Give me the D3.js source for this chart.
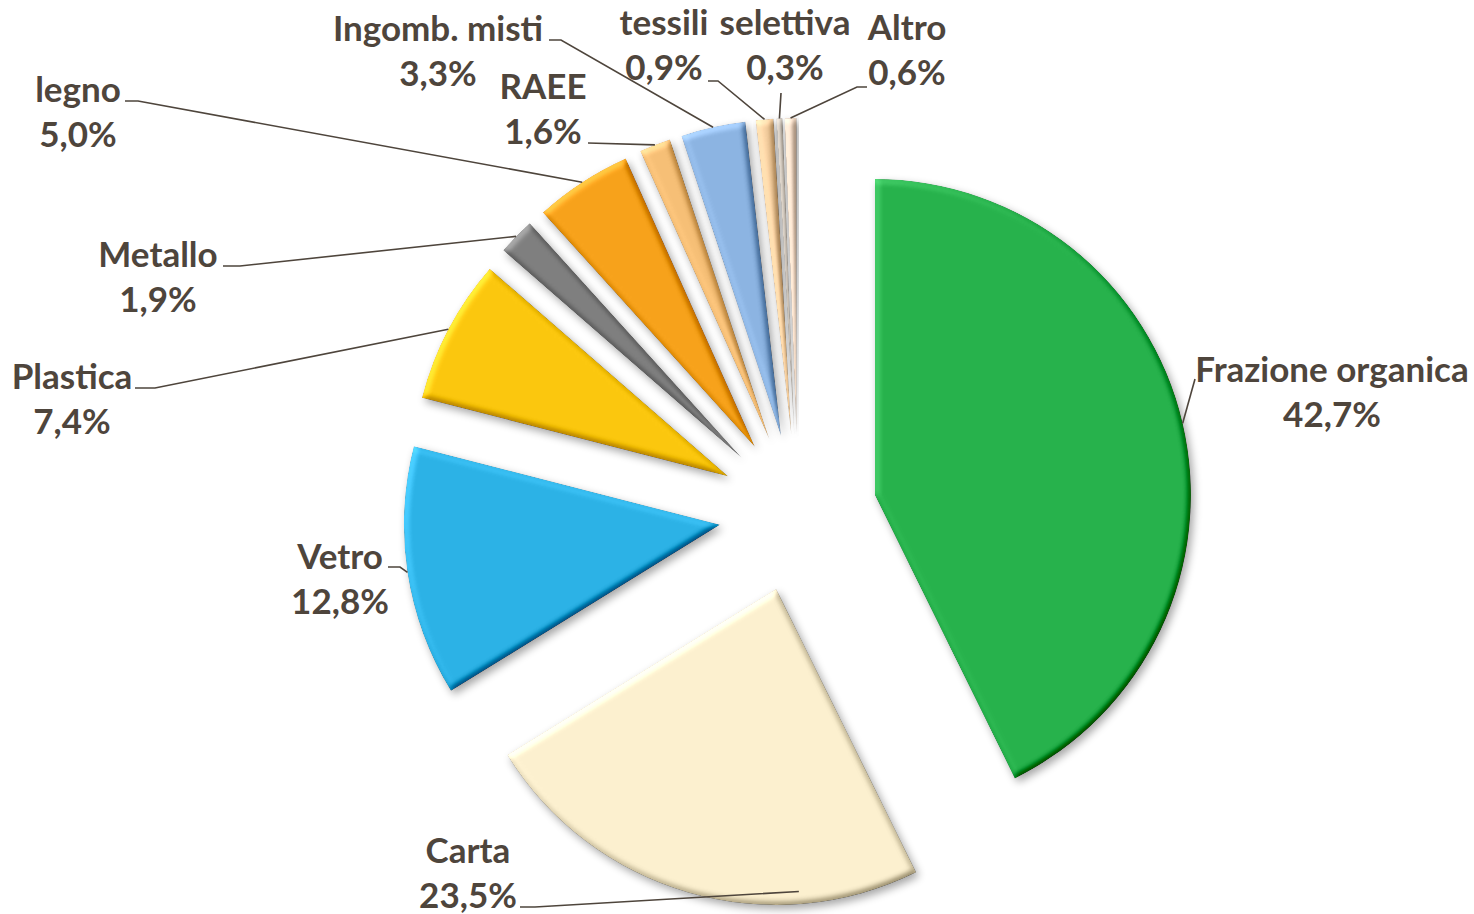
<!DOCTYPE html>
<html>
<head>
<meta charset="utf-8">
<script src="https://cdn.jsdelivr.net/npm/d3@7"></script>
<style>
  body { margin: 0; background: #fff; }
  text { font-family: Lato, "Open Sans", sans-serif; font-weight: 700; fill: #4e453c; }
</style>
</head>
<body>
<div id="chart-area"></div>
<script>
// data
const categories = ["Frazione organica", "Carta", "Vetro", "Plastica", "Metallo", "legno",
    "RAEE", "Ingomb. misti", "tessili", "selettiva", "Altro"];
const values = [42.7, 23.5, 12.8, 7.4, 1.9, 5.0, 1.6, 3.3, 0.9, 0.3, 0.6];

// styles
const sliceColors = ["#27b24c", "#fcf0cf", "#2cb2e6", "#fbc70e", "#7f7f7f", "#f7a21b",
    "#f6bf76", "#8cb4e2", "#f5cfa0", "#cfc6bb", "#f1dac6"];

// label placement: text centre x, first baseline y, leader start and short elbow
// at = where on the slice the leader ends (0..1 of its angle), rf = radius factor
const labelLayout = [
    {x: 1332, y: 382, sx: 1195, sy: 379, elbow: 0},
    {x: 468, y: 863, sx: 520, sy: 907, elbow: 15, at: 0.26, rf: 0.96},
    {x: 340, y: 569, sx: 388, sy: 567, elbow: 12},
    {x: 72, y: 389, sx: 135, sy: 388, elbow: 20},
    {x: 158, y: 267, sx: 223, sy: 266, elbow: 17},
    {x: 78, y: 102, sx: 125, sy: 101, elbow: 13},
    {x: 543, y: 99, sx: 588, sy: 143, elbow: 0},
    {x: 438, y: 41, sx: 549, sy: 40, elbow: 12},
    {x: 664, y: 35, sx: 708, sy: 81, elbow: 10},
    {x: 785, y: 35, sx: 781, sy: 93, elbow: 0},
    {x: 907, y: 40, sx: 867, sy: 87, elbow: -10}
];

let width = 1474, height = 914;
let cx = 798, cy = 513, radius = 316, explode = 79;
let lineGap = 45;

const fmt = v => d3.format(".1f")(v).replace(".", ",") + "%";

const svg = d3.select("#chart-area").append("svg")
    .attr("width", width)
    .attr("height", height);

svg.append("rect")
    .attr("width", width)
    .attr("height", height)
    .attr("fill", "#fff");

// bevel + shadow filter
const defs = svg.append("defs");
const f = defs.append("filter")
    .attr("id", "bevel")
    .attr("x", "-15%").attr("y", "-15%")
    .attr("width", "135%").attr("height", "135%")
    .attr("color-interpolation-filters", "sRGB");
f.append("feGaussianBlur").attr("in", "SourceAlpha").attr("stdDeviation", 3).attr("result", "blur");
f.append("feDiffuseLighting")
    .attr("in", "blur").attr("surfaceScale", 3).attr("diffuseConstant", 1)
    .attr("lighting-color", "#fff").attr("result", "light")
    .append("feDistantLight").attr("azimuth", 225).attr("elevation", 50);
f.append("feComposite")
    .attr("in", "SourceGraphic").attr("in2", "light")
    .attr("operator", "arithmetic")
    .attr("k1", 0).attr("k2", 1).attr("k3", 0.7).attr("k4", -0.536)
    .attr("result", "lit");
f.append("feComposite").attr("in", "lit").attr("in2", "SourceAlpha").attr("operator", "in").attr("result", "bev");
f.append("feGaussianBlur").attr("in", "SourceAlpha").attr("stdDeviation", 4).attr("result", "sh");
f.append("feOffset").attr("in", "sh").attr("dx", 3).attr("dy", 4).attr("result", "sho");
f.append("feComponentTransfer").attr("in", "sho").attr("result", "shf")
    .append("feFuncA").attr("type", "linear").attr("slope", 0.35);
const merge = f.append("feMerge");
merge.append("feMergeNode").attr("in", "shf");
merge.append("feMergeNode").attr("in", "bev");

const pie = d3.pie().sort(null).value(d => d);
const arcs = pie(values);

const arc = d3.arc()
    .innerRadius(0)
    .outerRadius(radius);

const mid = d => (d.startAngle + d.endAngle) / 2;

// offset of every exploded slice
const offset = d => [Math.sin(mid(d)) * explode, -Math.cos(mid(d)) * explode];

const pieG = svg.append("g")
    .attr("transform", `translate(${cx}, ${cy})`);

pieG.selectAll("path")
    .data(arcs)
    .enter()
    .append("path")
    .attr("transform", d => `translate(${offset(d)[0]}, ${offset(d)[1]})`)
    .attr("d", arc)
    .attr("fill", (d, i) => sliceColors[i])
    .attr("filter", "url(#bevel)");

// leader lines
const leaders = svg.append("g");
arcs.forEach((d, i) => {
    const L = labelLayout[i];
    const o = offset(d);
    const t = L.at === undefined ? 0.5 : L.at;
    const a = d.startAngle + (d.endAngle - d.startAngle) * t;
    const r = radius * (L.rf || 1);
    const ex = cx + o[0] + Math.sin(a) * r;
    const ey = cy + o[1] - Math.cos(a) * r;
    const pts = [[L.sx, L.sy]];
    if (L.elbow !== 0) pts.push([L.sx + L.elbow, L.sy]);
    pts.push([ex, ey]);
    leaders.append("path")
        .attr("d", d3.line()(pts))
        .attr("fill", "none")
        .attr("stroke", "#4e453c")
        .attr("stroke-width", 1.6);
});

// labels
const labels = svg.append("g");
categories.forEach((c, i) => {
    const L = labelLayout[i];
    const t = labels.append("text")
        .attr("text-anchor", "middle")
        .attr("font-size", "35px");
    t.append("tspan").attr("x", L.x).attr("y", L.y).text(c);
    t.append("tspan").attr("x", L.x).attr("y", L.y + lineGap).text(fmt(values[i]));
});
</script>
</body>
</html>
